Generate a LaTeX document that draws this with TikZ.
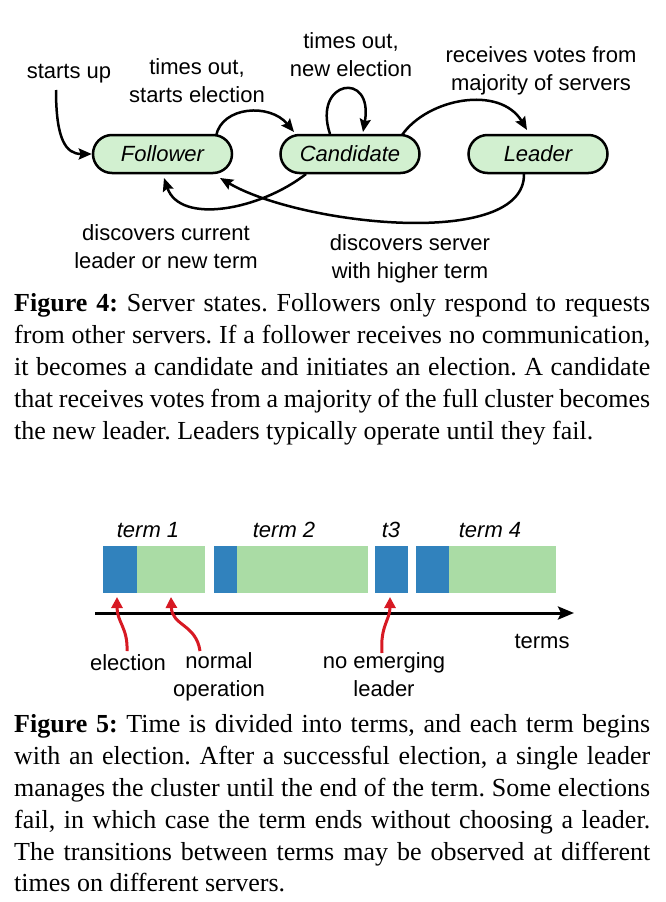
\documentclass[tikz,border=0pt]{standalone}
\usepackage{fontspec}
\setmainfont{Liberation Serif}
\newfontfamily\helv{Liberation Sans}
\usetikzlibrary{arrows.meta}
\definecolor{stategreen}{RGB}{210,240,208}
\definecolor{termblue}{RGB}{49,130,189}
\definecolor{termgreen}{RGB}{170,220,165}
\definecolor{arrowred}{RGB}{215,25,35}
\frenchspacing
\begin{document}
\begin{tikzpicture}[x=1pt,y=-1pt,
  state/.style={draw=black, line width=2.5pt, fill=stategreen, rounded corners=19pt,
    minimum width=139pt, minimum height=38pt, inner sep=0pt,
    font=\helv\itshape\fontsize{22}{26}\selectfont},
  lbl/.style={font=\helv\fontsize{22}{27.5}\selectfont, align=center, inner sep=0pt, anchor=base},
  termlbl/.style={font=\helv\itshape\fontsize{22}{26}\selectfont, inner sep=0pt, anchor=base},
  trans/.style={line width=2.5pt, -{Stealth[length=13pt,width=11pt,inset=2pt]}},
  redarrow/.style={line width=3pt, draw=arrowred, -{Triangle[length=11pt,width=11pt]}},
  axisline/.style={line width=3pt, -{Stealth[length=16pt,width=13pt,inset=3pt]}},
  captext/.style={font=\frenchspacing\fontsize{26}{32}\selectfont, inner sep=0pt, anchor=base west}
]
\useasboundingbox (0,0) rectangle (666,902);

% ---------- Figure 4: server states ----------
\node[state] (follower) at (162.5,154) {Follower};
\node[state] (candidate) at (350,154) {Candidate};
\node[state] (leader) at (538,154) {Leader};

% (base anchor = baseline of the last line)
\node[lbl] (startsup) at (69,78) {starts up};
\node[lbl] (timesout1) at (197,102) {times out,\\starts election};
\node[lbl] (timesout2) at (351,76) {times out,\\new election};
\node[lbl] (votes) at (541,90) {receives votes from\\majority of servers};
\node[lbl] (discover1) at (166,268) {discovers current\\leader or new term};
\node[lbl] (discover2) at (410,278) {discovers server\\with higher term};

\coordinate (startpt) at (56,90);
\draw[trans] (startpt) .. controls (56,140) and (66,154) .. (follower.west);
\draw[trans] (216,136) .. controls (222,106) and (270,103) .. (294,132);
\draw[trans] (330,134) .. controls (312,80) and (374,70) .. (363,132);
\draw[trans] (402,135) .. controls (428,98) and (500,85) .. (527,130);
\draw[trans] (306,174) .. controls (260,210) and (180,225) .. (164,178);
\draw[trans] (524,174) .. controls (525,250) and (300,225) .. (220,178);

% ---------- Figure 4 caption ----------
\node[captext] (c4a) at (14,311) {\makebox[636pt][s]{\textbf{Figure 4:} Server states. Followers only respond to requests}};
\node[captext] (c4b) at (14,343) {\makebox[636pt][s]{from other servers. If a follower receives no communication,}};
\node[captext] (c4c) at (14,375) {\makebox[636pt][s]{it becomes a candidate and initiates an election. A candidate}};
\node[captext] (c4d) at (14,407) {\makebox[636pt][s]{that receives votes from a majority of the full cluster becomes}};
\node[captext] (c4e) at (14,439) {the new leader. Leaders typically operate until they fail.};

% ---------- Figure 5: terms ----------
\node[termlbl] (t1) at (148,537) {term 1};
\node[termlbl] (t2) at (284,537) {term 2};
\node[termlbl] (t3) at (391,537) {t3};
\node[termlbl] (t4) at (490,537) {term 4};

\fill[termblue] (103,546) rectangle (137,593);
\fill[termgreen] (137,546) rectangle (205,593);
\fill[termblue] (214,546) rectangle (237,593);
\fill[termgreen] (237,546) rectangle (368,593);
\fill[termblue] (375,546) rectangle (408,593);
\fill[termblue] (416,546) rectangle (449,593);
\fill[termgreen] (449,546) rectangle (556,593);

\coordinate (axL) at (95,613);
\coordinate (axR) at (574,613);
\draw[axisline] (axL) -- (axR);

\node[lbl] (termsl) at (542,648) {terms};
\node[lbl] (elect) at (128,670) {election};
\node[lbl] (normal) at (219,696) {normal\\operation};
\node[lbl] (noemerg) at (384,696) {no emerging\\leader};

\coordinate (e0) at (127,651);
\coordinate (e1) at (117,597);
\coordinate (n0) at (200,651);
\coordinate (n1) at (171,597);
\coordinate (m0) at (382,653);
\coordinate (m1) at (390,597);
\draw[redarrow] (e0) .. controls (128,628) and (117,622) .. (e1);
\draw[redarrow] (n0) .. controls (196,624) and (172,626) .. (n1);
\draw[redarrow] (m0) .. controls (380,626) and (390,620) .. (m1);

% ---------- Figure 5 caption ----------
\node[captext] (c5a) at (14,732) {\makebox[636pt][s]{\textbf{Figure 5:} Time is divided into terms, and each term begins}};
\node[captext] (c5b) at (14,764) {\makebox[636pt][s]{with an election. After a successful election, a single leader}};
\node[captext] (c5c) at (14,796) {\makebox[636pt][s]{manages the cluster until the end of the term. Some elections}};
\node[captext] (c5d) at (14,828) {\makebox[636pt][s]{fail, in which case the term ends without choosing a leader.}};
\node[captext] (c5e) at (14,860) {\makebox[636pt][s]{The transitions between terms may be observed at different}};
\node[captext] (c5f) at (14,891) {times on different servers.};
\end{tikzpicture}
\end{document}
